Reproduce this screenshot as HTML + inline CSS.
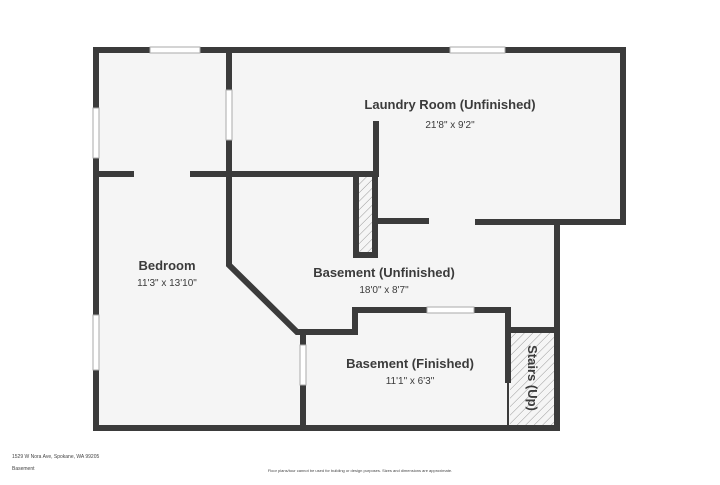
<!DOCTYPE html>
<html><head><style>
body{margin:0;background:#fff;width:720px;height:480px;overflow:hidden}
</style></head><body>
<svg width="720" height="480" viewBox="0 0 720 480" xmlns="http://www.w3.org/2000/svg" font-family="Liberation Sans, sans-serif">
<defs>
<pattern id="h" width="6" height="6" patternUnits="userSpaceOnUse" patternTransform="rotate(45)">
<rect width="6" height="6" fill="#f5f5f5"/><line x1="0" y1="0" x2="0" y2="6" stroke="#999" stroke-width="1"/>
</pattern>
</defs>
<polygon points="96,50 623,50 623,222 557,222 557,428 96,428" fill="#f5f5f5"/>
<rect x="510" y="330" width="47" height="98" fill="url(#h)"/>
<rect x="356" y="177" width="19" height="78" fill="url(#h)"/>
<g stroke="#3b3b3b" stroke-width="6" fill="none" stroke-linecap="square">
<path d="M96,50 H623 V222 M623,222 H478 M557,222 V428 H96 V50"/>
<path d="M229,50 V90 M229,140 V265 L297,332 H355 V310 H427 M474,310 H508 V380 M508,330 H557"/>
<path d="M96,174 H131 M193,174 H376 V124 M356,174 V255 H375 V174 M378,221 H426"/>
<path d="M303,335 V345 M303,385 V428"/>
</g>
<line x1="508" y1="380" x2="508" y2="428" stroke="#3b3b3b" stroke-width="2"/>
<g fill="#fff" stroke="#aaa" stroke-width="1">
<rect x="150" y="47" width="50" height="6"/><rect x="450" y="47" width="55" height="6"/>
<rect x="93" y="108" width="6" height="50"/><rect x="93" y="315" width="6" height="55"/>
<rect x="226" y="90" width="6" height="50"/><rect x="300" y="345" width="6" height="40"/>
<rect x="427" y="307" width="47" height="6"/>
</g>
<g fill="#3b3b3b" text-anchor="middle">
<text x="450" y="109" font-size="13" font-weight="bold">Laundry Room (Unfinished)</text>
<text x="450" y="128" font-size="10">21'8" x 9'2"</text>
<text x="167" y="270" font-size="13" font-weight="bold">Bedroom</text>
<text x="167" y="286" font-size="10">11'3" x 13'10"</text>
<text x="384" y="277" font-size="13" font-weight="bold">Basement (Unfinished)</text>
<text x="384" y="293" font-size="10">18'0" x 8'7"</text>
<text x="410" y="368" font-size="13" font-weight="bold">Basement (Finished)</text>
<text x="410" y="384" font-size="10">11'1" x 6'3"</text>
<text transform="translate(528,378) rotate(90)" font-size="13" font-weight="bold">Stairs (Up)</text>
</g>
<g fill="#444" font-size="5">
<text x="12" y="458">1529 W Nora Ave, Spokane, WA 99205</text>
<text x="12" y="470">Basement</text>
<text x="360" y="472" text-anchor="middle" font-size="4">Floor plans/tour cannot be used for building or design purposes. Sizes and dimensions are approximate.</text>
</g>
</svg>
</body></html>
